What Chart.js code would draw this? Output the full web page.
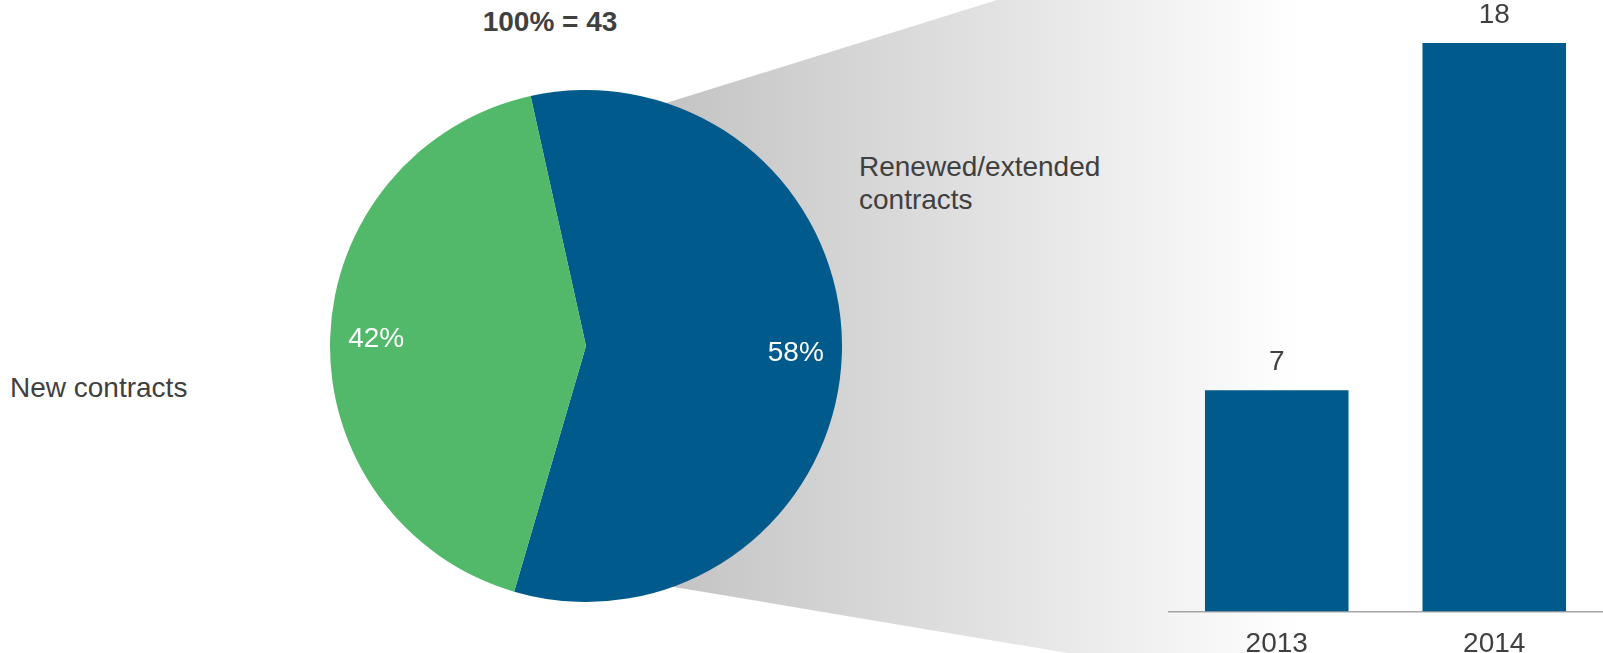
<!DOCTYPE html>
<html>
<head>
<meta charset="utf-8">
<script src="https://cdn.jsdelivr.net/npm/chart.js@4/dist/chart.umd.min.js"></script>
<style>
  html, body { margin: 0; padding: 0; background: #fff; overflow: hidden; }
  body { width: 1603px; height: 653px; position: relative; font-family: "Liberation Sans", Arial, sans-serif; color: #404040; }
  .txt { position: absolute; font-size: 28px; white-space: nowrap; }
  #wedge {
    position: absolute; left: 650px; top: 0; width: 650px; height: 653px;
    background: linear-gradient(to right, #c2c2c2 0%, #ffffff 100%);
    clip-path: polygon(0px 108px, 347px 0px, 650px 0px, 650px 653px, 418px 653px, 0px 583px);
  }
  #pieWrap { position: absolute; left: 330px; top: 90px; }
  #barWrap { position: absolute; left: 1168px; top: 0; }
</style>
</head>
<body>
<div id="wedge"></div>
<div class="txt" style="left:550px; top:22px; transform:translate(-50%,-50%); font-weight:bold;">100% = 43</div>
<div class="txt" style="left:859px; top:150px; line-height:33px;">Renewed/extended<br>contracts</div>
<div class="txt" style="left:10px; top:372px;">New contracts</div>
<div id="pieWrap"><canvas id="pie" width="512" height="512"></canvas></div>
<div id="barWrap"><canvas id="bar" width="435" height="669"></canvas></div>
<script>
// pie data
var pieLabels = ["Renewed/extended contracts", "New contracts"];
var pieValues = [58, 42];
var pieColors = ["#005a8c", "#52b96a"];

// bar data
var years = ["2013", "2014"];
var renewed = [7, 18];

var textColor = "#404040";
var fontFam = '"Liberation Sans", Arial, sans-serif';

// percent labels inside slices, at ~82% of the radius
var pieLabelPlugin = {
  id: "pieLabels",
  afterDatasetsDraw: function (chart) {
    var ctx = chart.ctx;
    var meta = chart.getDatasetMeta(0);
    ctx.save();
    ctx.fillStyle = "#ffffff";
    ctx.font = "28px " + fontFam;
    ctx.textAlign = "center";
    ctx.textBaseline = "middle";
    meta.data.forEach(function (arc, i) {
      var p = arc.getProps(["x", "y", "startAngle", "endAngle", "outerRadius"], true);
      var mid = (p.startAngle + p.endAngle) / 2;
      var r = p.outerRadius * 0.82;
      ctx.fillText(pieValues[i] + "%", p.x + Math.cos(mid) * r, p.y + Math.sin(mid) * r);
    });
    ctx.restore();
  }
};

new Chart(document.getElementById("pie"), {
  type: "pie",
  data: {
    labels: pieLabels,
    datasets: [{
      data: pieValues,
      backgroundColor: pieColors,
      borderWidth: 0
    }]
  },
  options: {
    responsive: false,
    animation: false,
    rotation: -12.5,
    plugins: { legend: { display: false }, tooltip: { enabled: false } }
  },
  plugins: [pieLabelPlugin]
});

// value labels on top of bars
var barLabelPlugin = {
  id: "barLabels",
  afterDatasetsDraw: function (chart) {
    var ctx = chart.ctx;
    var meta = chart.getDatasetMeta(0);
    ctx.save();
    ctx.fillStyle = textColor;
    ctx.font = "28px " + fontFam;
    ctx.textAlign = "center";
    ctx.textBaseline = "middle";
    meta.data.forEach(function (bar, i) {
      ctx.fillText(renewed[i], bar.x, bar.y - 28);
    });
    ctx.restore();
  }
};

new Chart(document.getElementById("bar"), {
  type: "bar",
  data: {
    labels: years,
    datasets: [{
      data: renewed,
      backgroundColor: "#005a8c",
      barPercentage: 0.66,
      categoryPercentage: 1
    }]
  },
  options: {
    responsive: false,
    animation: false,
    layout: { padding: { top: 43, left: 0, right: 0, bottom: 0 } },
    scales: {
      x: {
        grid: { display: false },
        border: { display: true, color: "#a6a6a6", width: 1.5 },
        ticks: { color: textColor, font: { size: 28, family: fontFam }, padding: 8 }
      },
      y: { display: false, min: 0, max: 18 }
    },
    plugins: { legend: { display: false }, tooltip: { enabled: false } }
  },
  plugins: [barLabelPlugin]
});
</script>
</body>
</html>
